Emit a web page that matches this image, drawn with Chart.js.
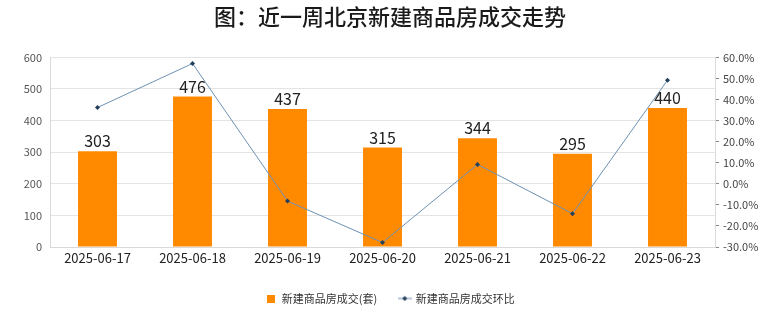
<!DOCTYPE html>
<html>
<head>
<meta charset="utf-8">
<script src="https://cdn.jsdelivr.net/npm/chart.js@4/dist/chart.umd.min.js"></script>
<style>
  html, body { margin: 0; padding: 0; background: #fff; }
  #wrap { width: 780px; height: 328px; position: relative; }
</style>
</head>
<body>
<div id="wrap"><canvas id="c"></canvas></div>
<script>
// ── DATA ─────────────────────────────────────────────
const dates = ['2025-06-17', '2025-06-18', '2025-06-19', '2025-06-20', '2025-06-21', '2025-06-22', '2025-06-23'];
const deals = [303, 476, 437, 315, 344, 295, 440];
const dealChange = [36.2, 57.1, -8.2, -27.9, 9.2, -14.2, 49.2];
const titleText = '图：近一周北京新建商品房成交走势';
const barLabel = '新建商品房成交(套)';
const lineLabel = '新建商品房成交环比';

const FONT = '"Noto Sans CJK SC", "Noto Sans", sans-serif';
const ORANGE = '#FF8A00';
const LINE = '#6d91b4';
const DOT = '#243f5a';

// legend icon for the line series: thin line with a small diamond
const lineIcon = document.createElement('canvas');
lineIcon.width = 14; lineIcon.height = 8;
(() => {
    const g = lineIcon.getContext('2d');
    g.strokeStyle = LINE; g.lineWidth = 1;
    g.beginPath(); g.moveTo(0, 4); g.lineTo(14, 4); g.stroke();
    g.fillStyle = DOT;
    g.beginPath(); g.moveTo(7, 1.5); g.lineTo(9.5, 4); g.lineTo(7, 6.5); g.lineTo(4.5, 4); g.closePath(); g.fill();
})();
const barIcon = document.createElement('canvas');
barIcon.width = 8; barIcon.height = 8;
(() => {
    const g = barIcon.getContext('2d');
    g.fillStyle = ORANGE; g.fillRect(0, 0, 8, 8);
})();

// ── BAR VALUE LABELS ─────────────────────────────────
const barValues = {
    id: 'barValues',
    afterDatasetsDraw(chart) {
        const meta = chart.getDatasetMeta(1);
        const g = chart.ctx;
        g.save();
        g.font = '16px ' + FONT;
        g.fillStyle = '#222';
        g.textAlign = 'center';
        g.textBaseline = 'bottom';
        meta.data.forEach((bar, i) => {
            g.fillText(String(deals[i]), bar.x, bar.y - 2);
        });
        g.restore();
    }
};

new Chart(document.getElementById('c'), {
    type: 'bar',
    data: {
        labels: dates,
        datasets: [
            {
                type: 'line',
                label: lineLabel,
                data: dealChange,
                yAxisID: 'y1',
                borderColor: LINE,
                borderWidth: 1,
                backgroundColor: DOT,
                pointStyle: 'rectRot',
                pointRadius: 2.5,
                pointBackgroundColor: DOT,
                pointBorderColor: DOT,
                pointBorderWidth: 0,
                tension: 0,
                order: 0
            },
            {
                label: barLabel,
                data: deals,
                yAxisID: 'y',
                backgroundColor: ORANGE,
                categoryPercentage: 0.41,
                barPercentage: 1,
                order: 1
            }
        ]
    },
    options: {
        responsive: true,
        maintainAspectRatio: false,
        animation: false,
        layout: { padding: { top: 0, bottom: 14, left: 0, right: 0 } },
        plugins: {
            title: {
                display: true,
                text: titleText,
                color: '#1a1a1a',
                font: { family: FONT, size: 22, weight: '500' },
                padding: { top: 3, bottom: 28 }
            },
            legend: {
                position: 'bottom',
                reverse: true,
                labels: {
                    usePointStyle: true,
                    color: '#333',
                    font: { family: FONT, size: 11 },
                    padding: 22,
                    generateLabels(chart) {
                        const items = Chart.defaults.plugins.legend.labels.generateLabels(chart);
                        items.forEach(it => {
                            it.pointStyle = it.datasetIndex === 0 ? lineIcon : barIcon;
                        });
                        return items;
                    }
                }
            },
            tooltip: { enabled: false }
        },
        scales: {
            x: {
                grid: { display: false, drawTicks: false },
                border: { color: '#d9d9d9' },
                ticks: { color: '#222', font: { family: FONT, size: 13 }, padding: 3, maxRotation: 0 },
                afterFit(s) { s.height = 24; }
            },
            y: {
                position: 'left',
                min: 0, max: 600,
                ticks: { stepSize: 100, color: '#555', font: { family: FONT, size: 11 }, padding: 8 },
                grid: { color: '#e4e4e4', drawTicks: false },
                border: { color: '#d9d9d9' },
                afterFit(s) { s.width = 50; }
            },
            y1: {
                position: 'right',
                min: -30, max: 60,
                ticks: {
                    stepSize: 5,
                    color: '#444',
                    font: { family: FONT, size: 11 },
                    padding: 4,
                    callback: v => (Math.round(v) % 10 === 0 ? v.toFixed(1) + '%' : '')
                },
                grid: { drawOnChartArea: false, drawTicks: true, tickLength: 4, color: '#888' },
                border: { color: '#d9d9d9' },
                afterFit(s) { s.width = 65; }
            }
        }
    },
    plugins: [barValues]
});
</script>
</body>
</html>
